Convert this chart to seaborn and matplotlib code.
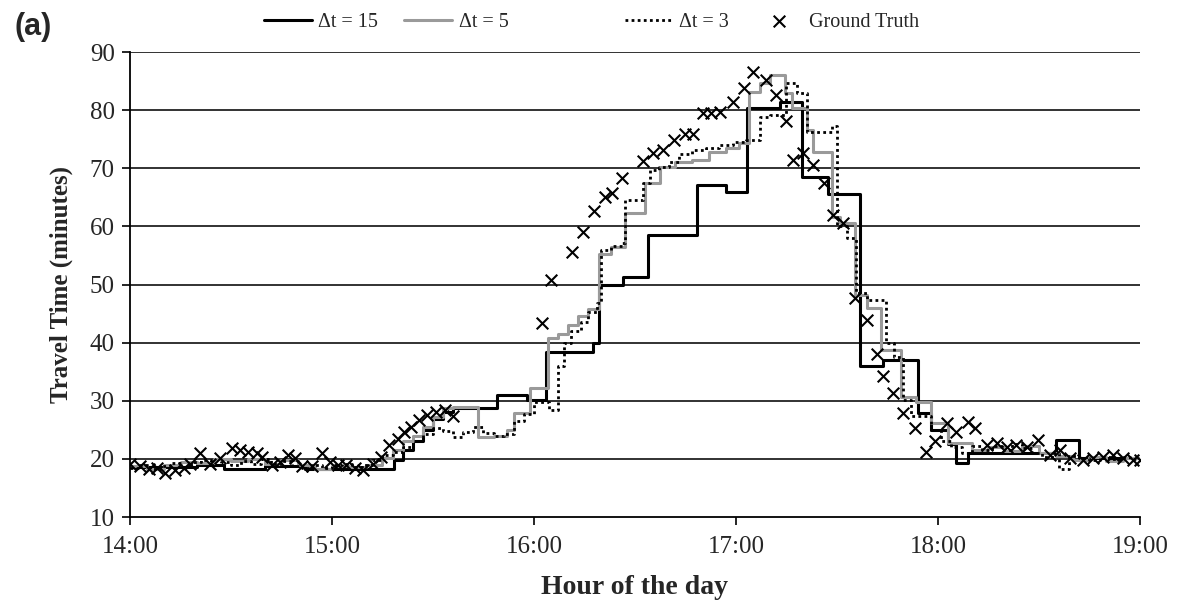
import matplotlib
matplotlib.use("Agg")
import matplotlib.pyplot as plt
import seaborn as sns

# minutes after 14:00
gt_time = [0, 3, 5.5, 8, 10.4, 13.4, 16, 17.8, 20.8, 23.8, 26.7, 30.2, 32.7, 35.1, 37.6,
           39.1, 42.1, 44.5, 47, 49, 51, 54, 56.9, 59.4, 61.9, 64.3, 66.8, 69.3, 72.3,
           74.7, 77, 79.5, 81.5, 83.5, 85.8, 88.1, 91, 93.6, 96,
           122.3, 125.2, 131.2, 134.6, 137.8, 141.1, 143.1, 146.2, 152.4, 155.3, 158.4,
           161.6, 165, 167.3, 170.1, 172.5, 175.2, 179.2, 182.3, 185.1, 188.9, 192,
           194.8, 197, 199.8, 202.9, 206.1, 208.9, 211.9, 215.5, 218.8, 221.8, 223.7,
           226.7, 229.7, 233.2, 236.4, 239.1, 242.6, 245.5, 249, 251, 254.5, 257.4,
           260.4, 263.3, 266.3, 269.8, 273.2, 276.2, 279.2, 283.1, 286.1, 289.1, 292,
           295, 298, 300]
gt_value = [19.2, 18.7, 18.2, 18.5, 17.6, 18.1, 18.4, 19.2, 21.0, 19.2, 20.1, 21.8, 21.5,
            21.2, 21.0, 20.4, 19.0, 19.4, 20.7, 20.1, 18.7, 18.7, 21.0, 19.5, 19.0, 18.9,
            18.4, 18.1, 19.2, 20.4, 22.4, 23.4, 24.6, 25.5, 26.7, 27.5, 28.1, 28.4, 27.3,
            43.4, 50.8, 55.6, 59.1, 62.7, 65.0, 65.7, 68.4, 71.3, 72.6, 73.1, 74.9, 75.9,
            75.9, 79.5, 79.5, 79.7, 81.4, 83.8, 86.6, 85.2, 82.6, 78.2, 71.5, 72.6, 70.6,
            67.5, 62.0, 60.5, 47.6, 43.9, 38.0, 34.3, 31.4, 27.9, 25.3, 21.2, 23.0, 26.1,
            24.7, 26.4, 25.3, 22.4, 22.7, 22.1, 22.4, 22.1, 23.2, 20.7, 21.5, 20.1, 19.8,
            20.1, 20.4, 20.7, 20.1, 19.8, 19.8]

dt15_time = [0, 20, 28, 40, 52, 63, 78.5, 81, 84, 87, 90, 93, 96, 109, 118, 123.5, 137.5,
             139.3, 146.5, 154, 168.3, 177, 183.3, 193, 199.5, 207.3, 216.8, 223.7, 234,
             238, 243, 245.5, 249, 275.2, 282, 300]
dt15_value = [18.6, 19.0, 18.2, 18.8, 18.3, 18.2, 19.8, 21.5, 23.0, 25.0, 26.8, 28.0, 28.8,
              31.0, 30.2, 38.4, 40.0, 50.0, 51.3, 58.5, 67.2, 66.0, 80.3, 81.4, 68.5, 65.6,
              35.9, 37.0, 27.9, 25.0, 22.5, 19.3, 21.0, 23.2, 20.1, 20.1]

dt5_time = [0, 5, 10, 15, 20, 25, 30, 35, 40, 45, 50, 55, 60, 65, 70, 75, 78, 81, 84, 87,
            90, 93, 96, 103.4, 108, 112, 114, 118.8, 124.2, 127, 130, 133, 136, 139.4, 143,
            146.9, 153, 157.4, 162, 167, 172, 177, 181, 183.9, 187, 190, 194.5, 196.5, 201,
            203, 208.4, 211, 215.3, 219, 223, 229, 233.6, 238, 243, 250, 255, 260, 265, 270,
            275, 280, 285, 290, 295, 300]
dt5_value = [18.8, 18.3, 18.9, 19.5, 19.3, 20.0, 19.6, 20.0, 19.2, 19.8, 18.9, 18.2, 18.7,
             18.6, 19.0, 20.2, 21.5, 23.0, 24.0, 25.5, 27.2, 28.8, 29.0, 23.8, 24.0, 25.0,
             27.9, 32.2, 40.8, 41.5, 43.0, 44.5, 45.8, 55.3, 56.5, 62.3, 67.4, 70.3, 71.0,
             71.5, 72.8, 73.5, 74.3, 83.2, 84.6, 86.0, 83.0, 80.3, 76.6, 72.8, 61.7, 60.5,
             48.2, 46.0, 38.7, 30.7, 29.8, 26.2, 22.7, 21.5, 22.0, 21.3, 22.2, 21.0, 20.5,
             19.8, 20.3, 19.7, 20.1, 20.0]

dt3_time = [0, 3, 6, 9, 12, 15, 18, 21, 24, 27, 30, 33, 36, 39, 42, 45, 48, 51, 54, 57, 60,
            63, 66, 69, 72, 75, 78, 81, 84, 87, 90, 93, 96, 99, 102, 105, 108, 111, 114, 117,
            120, 124.5, 127, 129, 131, 134, 136, 138.6, 140, 143, 146, 147, 152.5, 154.5,
            157, 160, 163, 167, 171, 175, 179, 183, 187, 190, 195, 198, 201, 208.4, 210,
            213, 215.8, 219, 224.7, 227, 229.5, 232, 238, 241, 244, 247, 250, 253, 256, 259,
            262, 265, 268, 271, 274, 276, 279, 282, 285, 288, 291, 294, 297, 300]
dt3_value = [18.5, 19.0, 18.2, 18.8, 19.3, 18.6, 19.5, 19.8, 19.0, 19.4, 18.9, 19.6, 19.2,
             20.0, 19.1, 19.6, 18.8, 18.5, 19.0, 18.4, 18.9, 19.2, 18.6, 19.0, 19.8, 20.6,
             21.2, 22.0, 23.0, 24.2, 25.3, 24.8, 23.8, 24.6, 25.5, 24.5, 24.0, 24.3, 26.5,
             27.8, 29.8, 28.4, 36.0, 40.0, 42.0, 43.5, 45.2, 46.8, 56.0, 56.6, 57.1, 64.5,
             67.4, 69.7, 70.3, 71.0, 72.5, 73.1, 73.5, 74.0, 74.5, 74.9, 78.9, 79.2, 84.6,
             83.0, 76.3, 77.2, 60.0, 58.0, 48.5, 47.3, 39.9, 37.6, 30.1, 27.3, 25.0, 23.0,
             22.0, 21.0, 22.3, 21.5, 22.2, 21.6, 22.5, 21.8, 21.0, 20.4, 21.0, 18.3, 20.5,
             20.2, 19.8, 20.3, 20.0, 20.4, 19.9, 20.0]

hour_ticks = [0, 60, 120, 180, 240, 300]
hour_labels = ["14:00", "15:00", "16:00", "17:00", "18:00", "19:00"]

sns.set_style("white")
plt.rcParams["font.family"] = ["Liberation Serif", "DejaVu Serif"]

fig = plt.figure(figsize=(11.84, 6.0), dpi=100)
ax = fig.add_axes([0.1098, 0.1383, 0.8530, 0.7750])

for y in range(20, 91, 10):
    ax.axhline(y, color="#222222", lw=1.3, zorder=0)

sns.lineplot(x=dt15_time, y=dt15_value, ax=ax, color="black", lw=2.2,
             drawstyle="steps-post", sort=False, label="\u0394t = 15")
sns.lineplot(x=dt5_time, y=dt5_value, ax=ax, color="#9a9a9a", lw=2.2,
             drawstyle="steps-post", sort=False, label="\u0394t = 5")
sns.lineplot(x=dt3_time, y=dt3_value, ax=ax, color="black", lw=2.0,
             drawstyle="steps-post", sort=False, label="\u0394t = 3",
             linestyle=(0, (1, 1.2)))
sns.scatterplot(x=gt_time, y=gt_value, ax=ax, marker="x", color="black", s=70,
                linewidth=1.5, label="Ground Truth", zorder=5)

ax.set_xlim(0, 300)
ax.set_ylim(10, 90)
ax.set_xticks(hour_ticks)
ax.set_xticklabels(hour_labels)
ax.set_yticks(range(10, 91, 10))
ax.tick_params(axis="both", labelsize=18, direction="out", length=6, width=1.2,
               color="black", bottom=True, left=True)
ax.tick_params(axis="x", pad=8)
ax.tick_params(axis="y", pad=5)
for side in ["top", "right"]:
    ax.spines[side].set_visible(False)
for side in ["left", "bottom"]:
    ax.spines[side].set_color("black")
    ax.spines[side].set_linewidth(1.3)

ax.set_xlabel("Hour of the day", fontsize=20, fontweight="bold", labelpad=12)
ax.set_ylabel("Travel Time (minutes)", fontsize=18, fontweight="bold", labelpad=12)

handles, labels = ax.get_legend_handles_labels()
ax.legend_.remove()
leg_kw = dict(loc="center", ncol=2, frameon=False, fontsize=14.5, handlelength=2.4,
              columnspacing=1.3, handletextpad=0.3)
fig.legend(handles[:2], labels[:2], bbox_to_anchor=(0.326, 0.963), **leg_kw)
fig.legend(handles[2:], labels[2:], bbox_to_anchor=(0.652, 0.963), **leg_kw)

fig.text(0.012, 0.955, "(a)", fontsize=22, fontweight="bold",
         family=["Liberation Sans", "DejaVu Sans"], va="center", ha="left")

fig.savefig("out.png", dpi=100)
